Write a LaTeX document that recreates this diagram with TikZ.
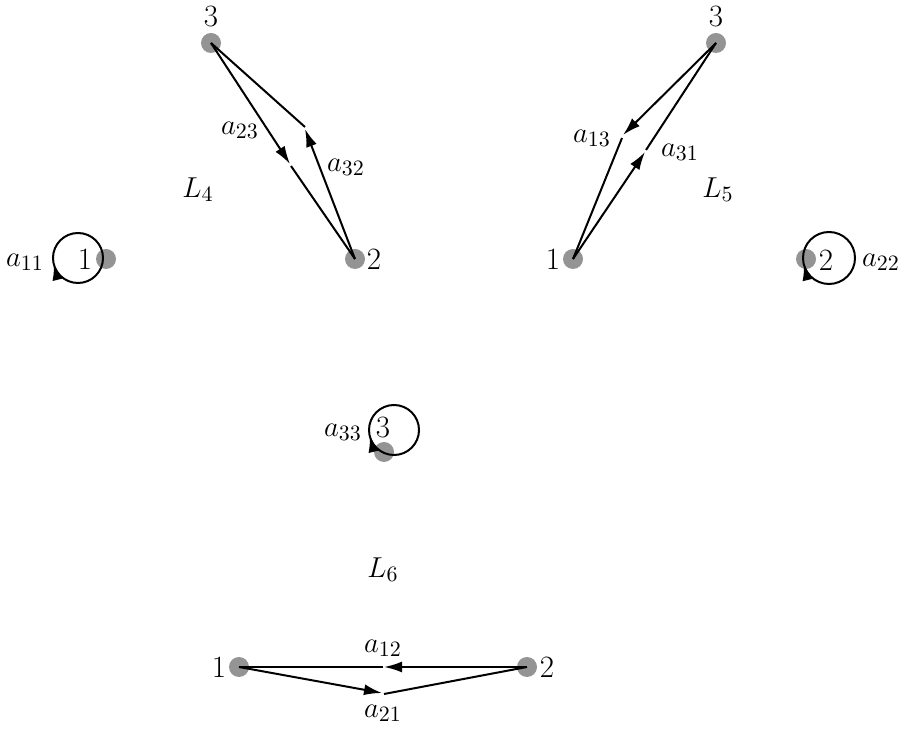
\documentclass[tikz,border=0pt]{standalone}
\usetikzlibrary{arrows.meta,decorations.markings}
\begin{document}
\begin{tikzpicture}[x=0.5pt,y=-0.5pt,
  dot/.style={circle,fill=black!42,minimum size=10pt,inner sep=0pt},
  lbl/.style={inner sep=0pt,font=\fontsize{15.5}{18}\selectfont},
  edge/.style={line width=1pt,black},
  arr/.style={edge,-{Latex[length=9pt,width=5.5pt]}},
  loopc/.style={edge,postaction={decorate},decoration={markings,mark=at position 0.54 with {\arrowreversed{Latex[length=8pt,width=5.5pt]}}}}]
\useasboundingbox (0,0) rectangle (905,731);
% ---------- L4 ----------
\node[dot] (n41) at (106,259) {};
\node[dot] (n42) at (355,259) {};
\node[dot] (n43) at (211,43) {};
\coordinate (c41) at (78,258);
\draw[loopc] (c41) circle (12.5pt);
\node[lbl] (t41) at (85,259) {1};
\node[lbl] (t42) at (374,259) {2};
\node[lbl] (t43) at (211,17) {3};
\node[lbl] (l11) at (25,262) {$a_{11}$};
\coordinate (p23) at (290,164);
\coordinate (q23) at (291,166);
\coordinate (p32) at (305,129);
\coordinate (q32) at (305,127);
\draw[arr] (n43.center) -- (p23);
\draw[edge] (q23) -- (n42.center);
\draw[arr] (n42.center) -- (p32);
\draw[edge] (q32) -- (n43.center);
\node[lbl] (l23) at (240,130) {$a_{23}$};
\node[lbl] (l32) at (346,167) {$a_{32}$};
\node[lbl] (L4) at (198,190) {$L_4$};
% ---------- L5 ----------
\node[dot] (n51) at (573,259) {};
\node[dot] (n52) at (806,259) {};
\node[dot] (n53) at (716,43) {};
\coordinate (c52) at (829,258);
\draw[loopc] (c52) circle (13pt);
\node[lbl] (t51) at (553,259) {1};
\node[lbl] (t52) at (826,260) {2};
\node[lbl] (t53) at (716,17) {3};
\node[lbl] (l22) at (881,262) {$a_{22}$};
\coordinate (p13) at (623,135);
\coordinate (q13) at (622,138);
\coordinate (p31) at (645,152);
\coordinate (q31) at (646,150);
\draw[arr] (n53.center) -- (p13);
\draw[edge] (q13) -- (n51.center);
\draw[arr] (n51.center) -- (p31);
\draw[edge] (q31) -- (n53.center);
\node[lbl] (l13) at (592,138) {$a_{13}$};
\node[lbl] (l31) at (680,152) {$a_{31}$};
\node[lbl] (L5) at (718,190) {$L_5$};
% ---------- L6 ----------
\node[dot] (n63) at (384,452) {};
\node[dot] (n61) at (239,667) {};
\node[dot] (n62) at (527,667) {};
\coordinate (c63) at (394,430);
\draw[loopc] (c63) circle (12.5pt);
\node[lbl] (t63) at (383,428) {3};
\node[lbl] (t61) at (219,667) {1};
\node[lbl] (t62) at (547,667) {2};
\node[lbl] (l33) at (343,432) {$a_{33}$};
\coordinate (p12) at (384,667);
\coordinate (q12) at (383,667);
\coordinate (p21) at (382,693);
\coordinate (q21) at (384,694);
\draw[arr] (n62.center) -- (p12);
\draw[edge] (q12) -- (n61.center);
\draw[arr] (n61.center) -- (p21);
\draw[edge] (q21) -- (n62.center);
\node[lbl] (l12) at (383,648) {$a_{12}$};
\node[lbl] (l21) at (383,713) {$a_{21}$};
\node[lbl] (L6) at (383,570) {$L_6$};
\end{tikzpicture}
\end{document}
